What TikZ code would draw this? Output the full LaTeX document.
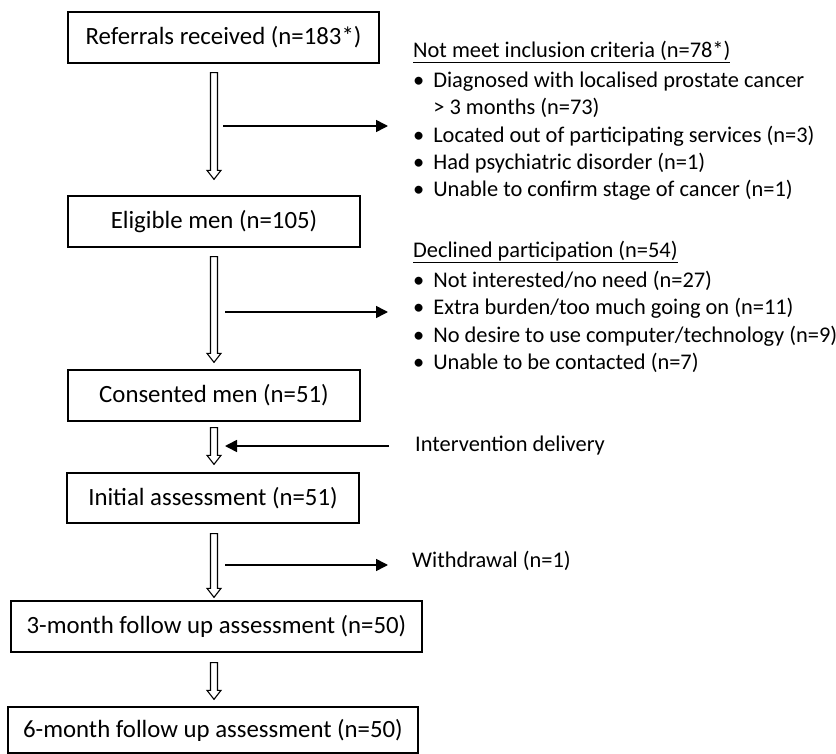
\documentclass[tikz,border=0pt]{standalone}
\usepackage{fontspec}
\setmainfont{Carlito}
\usetikzlibrary{positioning, arrows.meta, calc}

\tikzset{
  box/.style={draw, line width=1.3pt, minimum height=51pt, inner sep=0pt,
    font=\fontsize{24.8}{28}\selectfont},
  note/.style={anchor=west, inner sep=0pt, align=left,
    font=\fontsize{22.4}{27.2}\selectfont},
  side/.style={line width=1.6pt, -{Triangle[length=12pt,width=12pt]}},
  hollow/.style={line width=1.1pt, fill=white},
}
% hollow down arrow between two points
\newcommand{\flowarrow}[2]{%
  \draw[hollow] ($(#1)+(-3.5,0)$) -- ($(#2)+(-3.5,-9)$) -- ($(#2)+(-7,-9)$) -- (#2)
    -- ($(#2)+(7,-9)$) -- ($(#2)+(3.5,-9)$) -- ($(#1)+(3.5,0)$) -- cycle;}

\begin{document}
\begin{tikzpicture}[x=1pt,y=-1pt]
  \useasboundingbox (0,0) rectangle (836,754);
  \coordinate (axis) at (214,0);

  % main column
  \node[box, minimum width=311pt] (ref) at (223.5,37.5) {Referrals received (n=183*)};
  \node[box, minimum width=292pt] (elig) at (214,221.5) {Eligible men (n=105)};
  \node[box, minimum width=292pt] (cons) at (214,395.5) {Consented men (n=51)};
  \node[box, minimum width=292pt, minimum height=50pt] (init) at (213,498) {Initial assessment (n=51)};
  \node[box, minimum width=411pt] (fu3) at (216.5,626.5) {3-month follow up assessment (n=50)};
  \node[box, minimum width=410pt, minimum height=46pt] (fu6) at (213,730) {6-month follow up assessment (n=50)};

  % side notes
  \node[note] (excl) at (413,52) {\underline{Not meet inclusion criteria (n=78*)}};
  \node[note, anchor=north west] (exlist) at (413,68.5) {%
    \begin{tabular}{@{}l@{\hspace{9pt}}l@{}}
      \textbullet & Diagnosed with localised prostate cancer\\
                  & > 3 months (n=73)\\
      \textbullet & Located out of participating services (n=3)\\
      \textbullet & Had psychiatric disorder (n=1)\\
      \textbullet & Unable to confirm stage of cancer (n=1)
    \end{tabular}};
  \node[note] (decl) at (413,252) {\underline{Declined participation (n=54)}};
  \node[note, anchor=north west] (delist) at (413,268.5) {%
    \begin{tabular}{@{}l@{\hspace{9pt}}l@{}}
      \textbullet & Not interested/no need (n=27)\\
      \textbullet & Extra burden/too much going on (n=11)\\
      \textbullet & No desire to use computer/technology (n=9)\\
      \textbullet & Unable to be contacted (n=7)
    \end{tabular}};
  \node[note] (deliv) at (415,446) {Intervention delivery};
  \node[note] (withd) at (412,561) {Withdrawal (n=1)};

  % hollow arrows down the column
  \flowarrow{$(ref.south -| axis)+(0,9)$}{$(elig.north -| axis)+(0,-16)$}
  \flowarrow{$(elig.south -| axis)+(0,9)$}{$(cons.north -| axis)+(0,-7)$}
  \flowarrow{$(cons.south -| axis)+(0,6)$}{$(init.north -| axis)+(0,-8)$}
  \flowarrow{$(init.south -| axis)+(0,10)$}{$(fu3.north -| axis)+(0,-3)$}
  \flowarrow{$(fu3.south -| axis)+(0,10)$}{$(fu6.north -| axis)+(0,-7)$}

  % side arrows
  \coordinate (s1) at (223,126);   \coordinate (e1) at (388,126);
  \coordinate (s2) at (225,312);   \coordinate (e2) at (388,312);
  \coordinate (s3) at (389,446);   \coordinate (e3) at (225,446);
  \coordinate (s4) at (225,565);   \coordinate (e4) at (388,565);
  \draw[side] (s1) -- (e1);
  \draw[side] (s2) -- (e2);
  \draw[side] (s3) -- (e3);
  \draw[side] (s4) -- (e4);
\end{tikzpicture}
\end{document}
